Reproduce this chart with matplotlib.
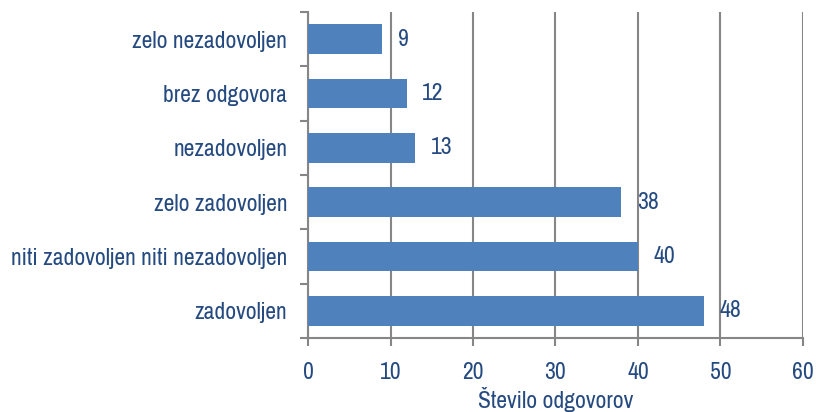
import matplotlib.pyplot as plt
from matplotlib import font_manager

categories = ['zadovoljen', 'niti zadovoljen niti nezadovoljen', 'zelo zadovoljen',
              'nezadovoljen', 'brez odgovora', 'zelo nezadovoljen']
values = [48, 40, 38, 13, 12, 9]
xticks = [0, 10, 20, 30, 40, 50, 60]

names = {f.name for f in font_manager.fontManager.ttflist}
fam = 'Archivo Narrow' if 'Archivo Narrow' in names else 'Liberation Sans'
plt.rcParams['font.family'] = [fam, 'DejaVu Sans']

txt = '#254A80'
bar_c = '#4F81BD'
grid_c = '#868686'
fs = 17

fig = plt.figure(figsize=(8.16, 4.12), dpi=100)
ax = fig.add_axes([0.3775, 0.1796, 0.6065, 0.7913])

y = range(len(categories))
ax.barh(y, values, height=0.55, color=bar_c, zorder=3)
for i, v in enumerate(values):
    ax.annotate(str(v), (v, i), xytext=(11, 0), textcoords='offset points',
                va='center', ha='left', fontsize=fs, color=txt)

ax.set_xlim(0, 60)
ax.set_ylim(-0.5, len(categories) - 0.5)
ax.set_xticks(xticks)
ax.set_yticks(list(y))
ax.set_yticklabels(categories)
ax.set_yticks([i - 0.5 for i in range(len(categories) + 1)], minor=True)
ax.tick_params(axis='y', which='major', length=0, pad=15, labelsize=fs, labelcolor=txt)
ax.tick_params(axis='y', which='minor', length=6, width=1.5, color=grid_c)
ax.tick_params(axis='x', length=6, width=1.5, color=grid_c, labelsize=fs,
               labelcolor=txt, pad=11)
ax.grid(axis='x', color=grid_c, linewidth=1.5, zorder=0)
for s in ['top', 'right']:
    ax.spines[s].set_visible(False)
for s in ['left', 'bottom']:
    ax.spines[s].set_color(grid_c)
    ax.spines[s].set_linewidth(1.5)
ax.set_xlabel('Število odgovorov', fontsize=fs, color=txt, labelpad=3)

fig.savefig('out.png', dpi=100)
